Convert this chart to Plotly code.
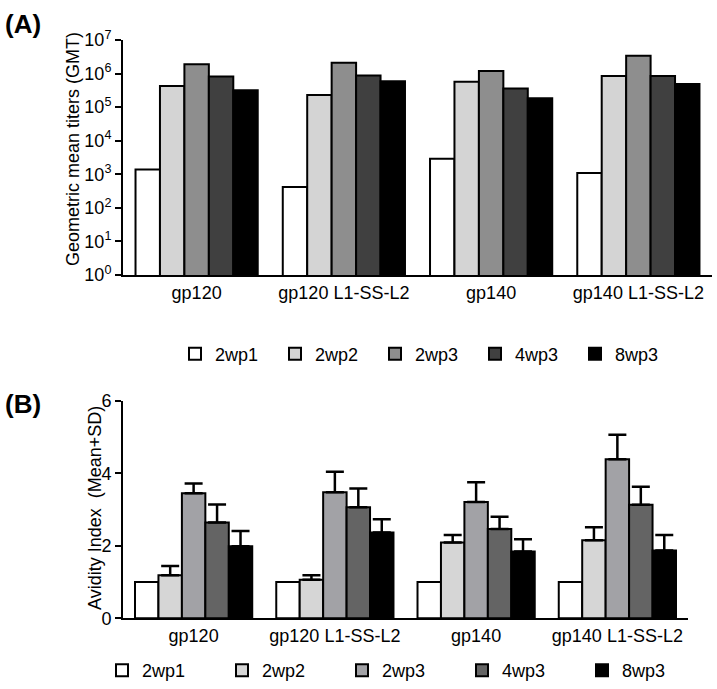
import plotly.graph_objects as go

categories = ["gp120", "gp120 L1-SS-L2", "gp140", "gp140 L1-SS-L2"]
series = ["2wp1", "2wp2", "2wp3", "4wp3", "8wp3"]

# Panel A: geometric mean titers
gmt = {
    "2wp1": [1.4e3, 4.2e2, 2.9e3, 1.1e3],
    "2wp2": [4.3e5, 2.3e5, 5.7e5, 8.4e5],
    "2wp3": [1.9e6, 2.1e6, 1.2e6, 3.4e6],
    "4wp3": [8.2e5, 8.8e5, 3.6e5, 8.5e5],
    "8wp3": [3.2e5, 5.9e5, 1.85e5, 4.9e5],
}
# Panel B: avidity index mean and SD
avidity_mean = {
    "2wp1": [1.0, 1.0, 1.0, 1.0],
    "2wp2": [1.19, 1.06, 2.09, 2.15],
    "2wp3": [3.45, 3.48, 3.21, 4.39],
    "4wp3": [2.64, 3.06, 2.46, 3.13],
    "8wp3": [1.99, 2.37, 1.84, 1.87],
}
avidity_sd = {
    "2wp1": [0, 0, 0, 0],
    "2wp2": [0.25, 0.13, 0.21, 0.36],
    "2wp3": [0.27, 0.56, 0.54, 0.67],
    "4wp3": [0.50, 0.52, 0.34, 0.50],
    "8wp3": [0.42, 0.36, 0.34, 0.43],
}
tick_vals_a = [1, 10, 100, 1e3, 1e4, 1e5, 1e6, 1e7]
tick_text_a = ["10<sup>%d</sup>" % i for i in range(8)]

colors_a = {"2wp1": "#ffffff", "2wp2": "#d4d4d4", "2wp3": "#8e8e8e", "4wp3": "#404040", "8wp3": "#000000"}
colors_b = {"2wp1": "#ffffff", "2wp2": "#d6d6d6", "2wp3": "#a2a2a6", "4wp3": "#646464", "8wp3": "#000000"}

FONT = "Liberation Sans, Arial, sans-serif"
W, H = 717, 689

fig = go.Figure()
for s in series:
    fig.add_trace(go.Bar(
        x=categories, y=gmt[s], name=s, xaxis="x", yaxis="y",
        marker=dict(color=colors_a[s], line=dict(color="black", width=2)),
        legend="legend",
    ))
for s in series:
    fig.add_trace(go.Bar(
        x=categories, y=avidity_mean[s], name=s, xaxis="x2", yaxis="y2",
        marker=dict(color=colors_b[s], line=dict(color="black", width=2)),
        error_y=dict(type="data", array=avidity_sd[s], arrayminus=[0]*4, symmetric=False,
                     color="black", thickness=2.5, width=9, visible=(s != "2wp1")),
        legend="legend2",
    ))

def px_x(p):
    return p / W

def px_y(p):
    return 1 - p / H

axis_common = dict(showline=True, linecolor="black", linewidth=2, showgrid=False, zeroline=False,
                   automargin=False, tickfont=dict(family=FONT, size=18, color="black"))

fig.update_layout(
    template="none",
    width=W, height=H, margin=dict(l=0, r=0, t=0, b=0, pad=0),
    paper_bgcolor="white", plot_bgcolor="white",
    barmode="group", bargap=0.17, bargroupgap=0,
    font=dict(family=FONT, size=18, color="black"),
    xaxis=dict(domain=[px_x(123), px_x(712)], anchor="y", ticks="", **axis_common),
    yaxis=dict(domain=[px_y(275), px_y(40)], anchor="x", type="log", range=[0, 7],
               tickvals=tick_vals_a, ticktext=tick_text_a, ticks="outside", ticklen=6, tickwidth=2,
               tickcolor="black", **axis_common),
    xaxis2=dict(domain=[px_x(123), px_x(688)], anchor="y2", ticks="", **axis_common),
    yaxis2=dict(domain=[px_y(618.3), px_y(400.8)], anchor="x2", range=[0, 6], dtick=2,
                ticks="outside", ticklen=6, tickwidth=2, tickcolor="black", **axis_common),
    legend=dict(orientation="h", x=px_x(175), y=px_y(354), xanchor="left", yanchor="middle",
                entrywidth=55, font=dict(family=FONT, size=18), bgcolor="rgba(0,0,0,0)"),
    legend2=dict(orientation="h", x=px_x(102), y=0, xanchor="left", yanchor="bottom",
                 entrywidth=75, font=dict(family=FONT, size=18), bgcolor="rgba(0,0,0,0)"),
    annotations=[
        dict(text="<b>(A)</b>", x=px_x(3), y=px_y(24), xref="paper", yref="paper",
             xanchor="left", yanchor="middle", showarrow=False, font=dict(family=FONT, size=26)),
        dict(text="<b>(B)</b>", x=px_x(3), y=px_y(404), xref="paper", yref="paper",
             xanchor="left", yanchor="middle", showarrow=False, font=dict(family=FONT, size=26)),
        dict(text="Geometric mean titers (GMT)", x=px_x(73), y=px_y(149), xref="paper", yref="paper",
             xanchor="center", yanchor="middle", textangle=-90, showarrow=False,
             font=dict(family=FONT, size=18)),
        dict(text="Avidity Index  (Mean+SD)", x=px_x(95), y=px_y(508), xref="paper", yref="paper",
             xanchor="center", yanchor="middle", textangle=-90, showarrow=False,
             font=dict(family=FONT, size=18)),
    ],
)

fig.write_html("out.html", config={"displayModeBar": False},
               post_script="document.body.style.margin='0';document.body.style.overflow='hidden';")
